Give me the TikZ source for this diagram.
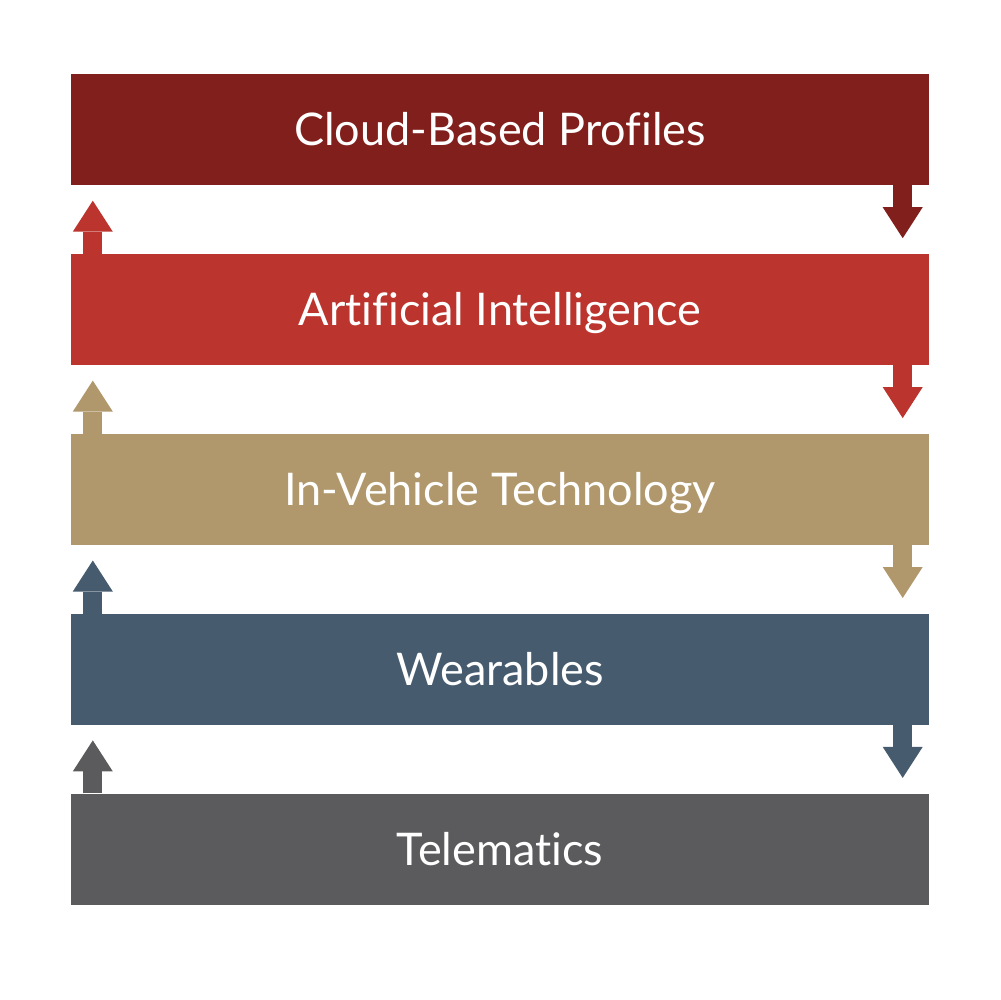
\documentclass[tikz,border=0pt]{standalone}
\usepackage{fontspec}
\setmainfont[Ligatures=NoCommon]{Lato}
\usetikzlibrary{positioning, arrows.meta}

\definecolor{cloudred}{HTML}{801F1C}
\definecolor{aired}{HTML}{BB342D}
\definecolor{vehicletan}{HTML}{B0986C}
\definecolor{wearblue}{HTML}{465B6E}
\definecolor{telegrey}{HTML}{5B5B5D}

\begin{document}
\begin{tikzpicture}[
    x=1pt, y=1pt,
    node distance=68.5pt,
    layer/.style={rectangle, fill=#1, minimum width=858pt, minimum height=111pt,
        inner sep=0pt, text=white, text height=32.5pt, text depth=0pt,
        font=\fontsize{45}{50}\selectfont},
    flow arrow/.style={draw=#1, line width=19pt,
        -{Triangle[length=31pt 0 0, width=40pt 0 0, line width=0pt 0 0]}}
]
    \useasboundingbox (0,0) rectangle (1001,-1000);

    % Layers
    \node[layer=cloudred] (cloud) at (500,-129.5) {Cloud-Based Profiles};
    \node[layer=aired] (ai) [below=of cloud] {Artificial Intelligence};
    \node[layer=vehicletan] (vehicle) [below=of ai] {In-Vehicle Technology};
    \node[layer=wearblue] (wear) [below=of vehicle] {Wearables};
    \node[layer=telegrey] (tele) [below=of wear] {Telematics};

    % Arrows down (right) and up (left)
    \draw[flow arrow=cloudred] ([xshift=-26.5pt]cloud.south east) -- ++(0,-53);
    \draw[flow arrow=aired] ([xshift=-26.5pt]ai.south east) -- ++(0,-53);
    \draw[flow arrow=vehicletan] ([xshift=-26.5pt]vehicle.south east) -- ++(0,-53);
    \draw[flow arrow=wearblue] ([xshift=-26.5pt]wear.south east) -- ++(0,-53);

    \draw[flow arrow=aired] ([xshift=22pt]ai.north west) -- ++(0,53);
    \draw[flow arrow=vehicletan] ([xshift=22pt]vehicle.north west) -- ++(0,53);
    \draw[flow arrow=wearblue] ([xshift=22pt]wear.north west) -- ++(0,53);
    \draw[flow arrow=telegrey] ([xshift=22pt]tele.north west) -- ++(0,53);

\end{tikzpicture}
\end{document}
